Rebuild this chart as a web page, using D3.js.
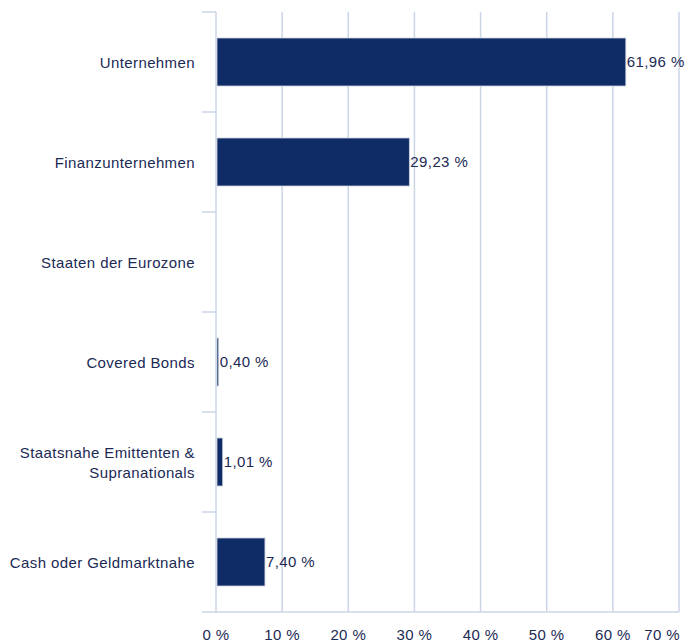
<!DOCTYPE html>
<html>
<head>
<meta charset="utf-8">
<script src="https://cdn.jsdelivr.net/npm/d3@7"></script>
<style>
  body { margin: 0; background: #fff; }
  text { font-family: "Liberation Sans", Arial, sans-serif; letter-spacing: 0.4px; }
</style>
</head>
<body>
<div id="chart"></div>
<script>
// Sektorenaufteilung
var categories = ["Unternehmen", "Finanzunternehmen", "Staaten der Eurozone", "Covered Bonds",
    "Staatsnahe Emittenten & Supranationals", "Cash oder Geldmarktnahe"];
var values = [61.96, 29.23, 0, 0.40, 1.01, 7.40];
var ticks = [0, 10, 20, 30, 40, 50, 60, 70];

var width = 685, height = 644;
var margin = {top: 12, right: 6, bottom: 32, left: 216};
var ink = "#1b2a55", grid = "#cad6e6", barColor = "#0f2c66";
var fontSize = 15;

var svg = d3.select("#chart").append("svg")
    .attr("width", width)
    .attr("height", height);

var x = d3.scaleLinear().domain([0, 70]).range([margin.left, width - margin.right]);
var y = d3.scaleBand().domain(categories).range([margin.top, height - margin.bottom]).paddingInner(0.52).paddingOuter(0.26);
var bandStep = y.step();

// gridlines
svg.append("g").selectAll("line").data(ticks.slice(1)).enter().append("line")
    .attr("x1", function (d) { return x(d); })
    .attr("x2", function (d) { return x(d); })
    .attr("y1", margin.top)
    .attr("y2", height - margin.bottom)
    .attr("stroke", grid).attr("stroke-width", 1.5);

// category axis line + separators
svg.append("line")
    .attr("x1", x(0)).attr("x2", x(0))
    .attr("y1", margin.top).attr("y2", height - margin.bottom)
    .attr("stroke", grid).attr("stroke-width", 1.5);
svg.append("g").selectAll("line").data(d3.range(categories.length)).enter().append("line")
    .attr("x1", x(0) - 14).attr("x2", x(0))
    .attr("y1", function (i) { return margin.top + i * bandStep; })
    .attr("y2", function (i) { return margin.top + i * bandStep; })
    .attr("stroke", grid).attr("stroke-width", 1.5);
// bottom baseline
svg.append("line")
    .attr("x1", x(0) - 14).attr("x2", x(70))
    .attr("y1", height - margin.bottom).attr("y2", height - margin.bottom)
    .attr("stroke", grid).attr("stroke-width", 1.5);

// bars
svg.append("g").selectAll("rect").data(values).enter().append("rect")
    .attr("x", x(0) + 1)
    .attr("y", function (d, i) { return y(categories[i]); })
    .attr("width", function (d) { return Math.max(0, x(d) - x(0) - 1); })
    .attr("height", y.bandwidth())
    .attr("fill", barColor)
    .attr("stroke", function (d) { return d > 0 ? "#c8cfdc" : "none"; })
    .attr("stroke-width", 0.8);

// value labels
svg.append("g").selectAll("text").data(values).enter().filter(function (d) { return d > 0; })
    .append("text")
    .attr("x", function (d) { return x(d) + 1; })
    .attr("y", function (d) { return y(categories[values.indexOf(d)]) + y.bandwidth() / 2; })
    .attr("dy", "0.35em")
    .attr("fill", ink)
    .attr("font-size", fontSize)
    .text(function (d) { return d.toFixed(2).replace(".", ",") + " %"; });

// category labels
var labels = svg.append("g").selectAll("text").data(categories).enter().append("text")
    .attr("x", 195)
    .attr("y", function (d) { return y(d) + y.bandwidth() / 2 + 1; })
    .attr("text-anchor", "end")
    .attr("fill", ink)
    .attr("font-size", fontSize);
labels.each(function (d) {
    var t = d3.select(this);
    var lines = d === "Staatsnahe Emittenten & Supranationals" ? ["Staatsnahe Emittenten &", "Supranationals"] : [d];
    lines.forEach(function (l, k) {
        t.append("tspan")
            .attr("x", 195)
            .attr("dy", k === 0 ? (0.35 - (lines.length - 1) * 0.67) + "em" : "1.34em")
            .text(l);
    });
});

// x tick labels
svg.append("g").selectAll("text").data(ticks).enter().append("text")
    .attr("x", function (d, i) { return i === ticks.length - 1 ? x(d) + 1 : x(d); })
    .attr("y", height - 4)
    .attr("text-anchor", function (d, i) { return i === ticks.length - 1 ? "end" : "middle"; })
    .attr("fill", ink)
    .attr("font-size", fontSize)
    .text(function (d) { return d + " %"; });
</script>
</body>
</html>
